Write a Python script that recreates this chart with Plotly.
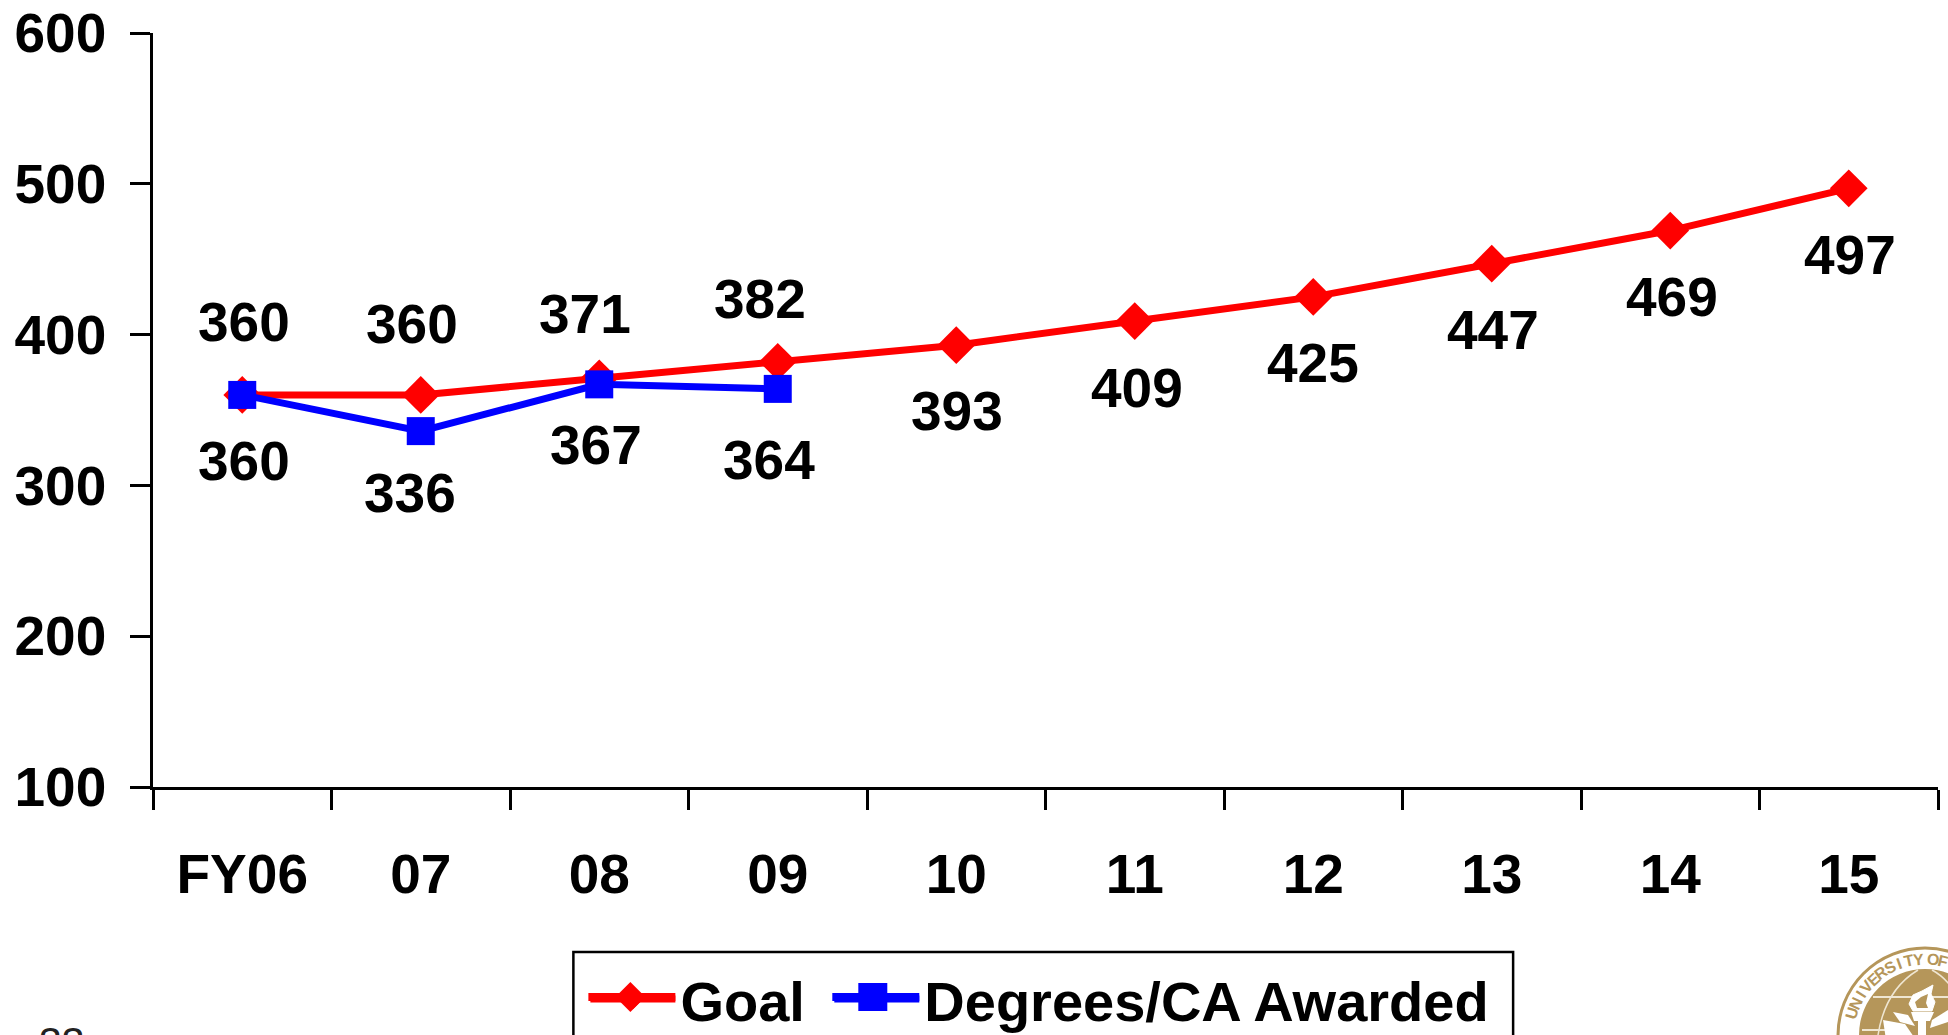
import math
import plotly.graph_objects as go

categories = ["FY06", "07", "08", "09", "10", "11", "12", "13", "14", "15"]
goal_values = [360, 360, 371, 382, 393, 409, 425, 447, 469, 497]
awarded_values = [360, 336, 367, 364]
y_ticks = [100, 200, 300, 400, 500, 600]

goal_shift_x = [2, -9, -14, -18, 1, 2, 0, 1, 2, 1]
goal_shift_y = [73, 71, 64, 63, -66, -67, -66, -66, -66, -67]
awarded_shift_x = [2, -11, -3, -9]
awarded_shift_y = [-66, -62, -61, -71]

W, H = 1948, 1035
L, R, T, B = 152.5, 10, 33, 248
FONT = "Liberation Sans, Arial, sans-serif"
GOLD = "#b5965a"
CREAM = "#efe6d2"


def xp(px):
    return (px - L) / (W - L - R)


def yp(py):
    return 1 - (py - T) / (H - T - B)


def path(points):
    return "M" + " L".join(f"{xp(a):.5f},{yp(b):.5f}" for a, b in points) + " Z"


fig = go.Figure()
fig.add_trace(go.Scatter(
    x=categories, y=goal_values, name="Goal", mode="lines+markers",
    line=dict(color="#ff0000", width=7), legend="legend",
    marker=dict(symbol="diamond", size=29, color="#ff0000"),
))
fig.add_trace(go.Scatter(
    x=categories[:len(awarded_values)], y=awarded_values, name="Degrees/CA Awarded",
    mode="lines+markers", legend="legend2",
    line=dict(color="#0000ff", width=7),
    marker=dict(symbol="square", size=28, color="#0000ff"),
))

annotations = []
for idx, (v, dx, dy) in list(enumerate(zip(goal_values, goal_shift_x, goal_shift_y))) + \
        list(enumerate(zip(awarded_values, awarded_shift_x, awarded_shift_y))):
    annotations.append(dict(
        x=idx, y=v, xref="x", yref="y", text=str(v), showarrow=False,
        xshift=dx, yshift=dy, xanchor="center", yanchor="middle",
        font=dict(family=FONT, size=55, color="black", weight="bold"),
    ))

annotations.append(dict(
    xref="paper", yref="paper", x=xp(61), y=yp(1042), text="33", showarrow=False,
    xanchor="center", yanchor="middle", font=dict(family=FONT, size=41, color="#222222"),
))

shapes = []
# legend frame
shapes.append(dict(type="rect", xref="paper", yref="paper", x0=xp(573), x1=xp(1513),
                   y0=yp(1060), y1=yp(952), line=dict(color="black", width=2.5),
                   fillcolor="rgba(0,0,0,0)"))
# large legend keys
for x0, x1, col in ((588, 675, "#ff0000"), (832, 919, "#0000ff")):
    shapes.append(dict(type="line", xref="paper", yref="paper", x0=xp(x0), x1=xp(x1),
                       y0=yp(997), y1=yp(997), line=dict(color=col, width=8)))
shapes.append(dict(type="path", xref="paper", yref="paper",
                   path=path([(630, 982), (645, 997), (630, 1012), (615, 997)]),
                   fillcolor="#ff0000", line=dict(width=0)))
shapes.append(dict(type="rect", xref="paper", yref="paper", x0=xp(858), x1=xp(887),
                   y0=yp(1011), y1=yp(983), fillcolor="#0000ff", line=dict(width=0)))

# university seal
CX, CY, R1, R2 = 1925, 1035, 87, 66


def circle(cx, cy, r, **kw):
    return dict(type="circle", xref="paper", yref="paper", x0=xp(cx - r), x1=xp(cx + r),
                y0=yp(cy + r), y1=yp(cy - r), **kw)


shapes.append(circle(CX, CY, R1, line=dict(color=GOLD, width=3), fillcolor="white"))
shapes.append(circle(CX, CY, R2, line=dict(width=0), fillcolor=GOLD))
for pts in ([(1873, 997), (1985, 997)], [(1862, 1030), (1893, 1030)]):
    shapes.append(dict(type="line", xref="paper", yref="paper", x0=xp(pts[0][0]), y0=yp(pts[0][1]),
                       x1=xp(pts[1][0]), y1=yp(pts[1][1]), line=dict(color=CREAM, width=2)))
shapes.append(dict(type="path", xref="paper", yref="paper", line=dict(color=CREAM, width=1.5),
                   path=f"M{xp(1918)},{yp(970)} Q{xp(1885)},{yp(990)} {xp(1878)},{yp(1035)}"))
shapes.append(dict(type="path", xref="paper", yref="paper", line=dict(color=CREAM, width=1.5),
                   path=f"M{xp(1932)},{yp(970)} Q{xp(1960)},{yp(985)} {xp(1972)},{yp(1035)}"))
# torch flame, bowl and leaves
shapes.append(dict(type="path", xref="paper", yref="paper",
                   path=path([(1933, 985), (1931, 994), (1935, 1002), (1932, 1011), (1913, 1011),
                              (1909, 1004), (1913, 995), (1922, 991)]),
                   fillcolor="white", line=dict(color="white", width=1)))
shapes.append(dict(type="path", xref="paper", yref="paper",
                   path=path([(1928, 994), (1926, 1003), (1928, 1008), (1917, 1008),
                              (1915, 1002), (1921, 997)]),
                   fillcolor=GOLD, line=dict(width=0)))
shapes.append(dict(type="path", xref="paper", yref="paper",
                   path=path([(1911, 1012), (1934, 1012), (1930, 1021), (1926, 1021),
                              (1926, 1040), (1918, 1040), (1918, 1021), (1914, 1021)]),
                   fillcolor="white", line=dict(width=0)))
shapes.append(dict(type="path", xref="paper", yref="paper",
                   path=path([(1883, 1020), (1905, 1024), (1916, 1040), (1886, 1040)]),
                   fillcolor="white", line=dict(width=0)))
shapes.append(dict(type="path", xref="paper", yref="paper",
                   path=path([(1893, 1012), (1908, 1015), (1915, 1026), (1900, 1022)]),
                   fillcolor="white", line=dict(width=0)))
shapes.append(dict(type="path", xref="paper", yref="paper",
                   path=path([(1948, 1010), (1932, 1020), (1930, 1028), (1948, 1022)]),
                   fillcolor="white", line=dict(width=0)))

seal_text = "UNIVERSITY"
for i, ch in enumerate(seal_text):
    ang = -73 + i * 7.6
    a = math.radians(ang)
    annotations.append(dict(
        xref="paper", yref="paper", x=xp(CX + 76 * math.sin(a)), y=yp(CY - 76 * math.cos(a)),
        text=ch, showarrow=False, textangle=ang, xanchor="center", yanchor="middle",
        font=dict(family=FONT, size=16, color=GOLD, weight="bold"),
    ))
for ch, ang in (("O", 6), ("F", 14)):
    a = math.radians(ang)
    annotations.append(dict(
        xref="paper", yref="paper", x=xp(CX + 76 * math.sin(a)), y=yp(CY - 76 * math.cos(a)),
        text=ch, showarrow=False, textangle=ang, xanchor="center", yanchor="middle",
        font=dict(family=FONT, size=16, color=GOLD, weight="bold"),
    ))

legend_common = dict(
    orientation="h", y=yp(956), xanchor="left", yanchor="top",
    itemwidth=85, bgcolor="rgba(0,0,0,0)", borderwidth=0, itemclick=False,
    font=dict(family=FONT, size=56, color="black", weight="bold"),
)

fig.update_layout(
    width=W, height=H,
    margin=dict(l=L, r=R, t=T, b=B, pad=0, autoexpand=False),
    paper_bgcolor="white", plot_bgcolor="white",
    font=dict(family=FONT, color="black"),
    annotations=annotations, shapes=shapes,
    showlegend=True,
    legend=dict(x=xp(585), **legend_common),
    legend2=dict(x=xp(829), **legend_common),
    xaxis=dict(
        type="category", categoryorder="array", categoryarray=categories, range=[-0.5, 9.5],
        tickson="boundaries", ticks="outside", ticklen=20, tickwidth=2.5, tickcolor="black",
        showline=True, linecolor="black", linewidth=2.5, showgrid=False, zeroline=False,
        tickfont=dict(family=FONT, size=55, color="black", weight="bold"), ticklabelstandoff=37,
        fixedrange=True,
    ),
    yaxis=dict(
        range=[100, 600], tickvals=y_ticks, ticks="outside", ticklen=20, tickwidth=2.5,
        tickcolor="black", showline=True, linecolor="black", linewidth=2.5, showgrid=False,
        zeroline=False, tickfont=dict(family=FONT, size=55, color="black", weight="bold"),
        ticklabelstandoff=13, fixedrange=True,
    ),
)

fig.write_html("out.html", config={"displayModeBar": False},
               post_script="document.body.style.margin='0';document.body.style.overflow='hidden';")
